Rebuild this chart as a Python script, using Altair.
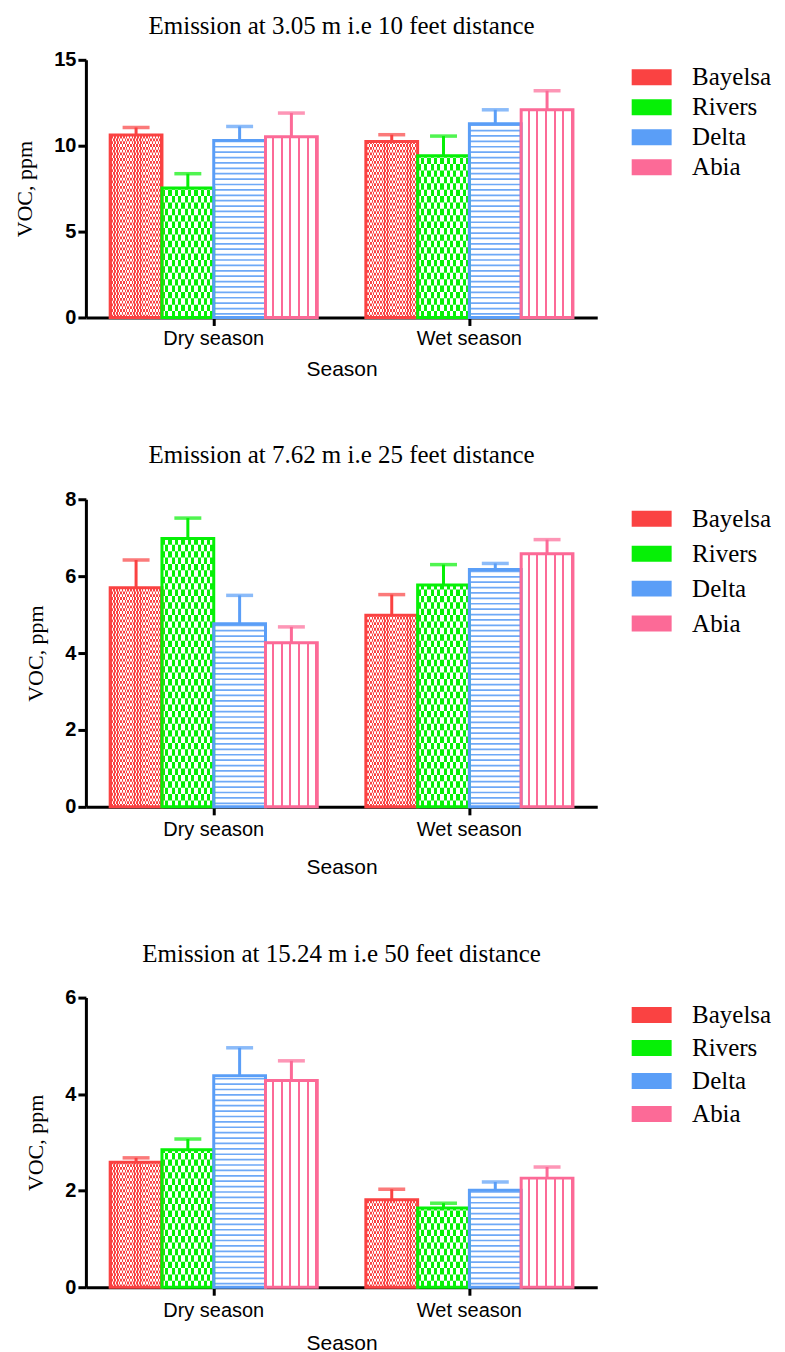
import altair as alt
import pandas as pd

seasons = ["Dry season", "Wet season"]
states = ["Bayelsa", "Rivers", "Delta", "Abia"]
colors = ["#FA4242", "#06F006", "#5A9EF7", "#FC6A97"]

titles = [
    "Emission at 3.05 m i.e 10 feet distance",
    "Emission at 7.62 m i.e 25 feet distance",
    "Emission at 15.24 m i.e 50 feet distance",
]

# mean VOC (ppm), order: Bayelsa, Rivers, Delta, Abia
p1_dry_mean = [10.62, 7.54, 10.31, 10.52]
p1_dry_upper = [11.06, 8.37, 11.12, 11.90]
p1_wet_mean = [10.25, 9.42, 11.28, 12.09]
p1_wet_upper = [10.64, 10.56, 12.09, 13.20]

p2_dry_mean = [5.70, 6.98, 4.76, 4.27]
p2_dry_upper = [6.42, 7.51, 5.50, 4.68]
p2_wet_mean = [4.98, 5.77, 6.17, 6.58]
p2_wet_upper = [5.52, 6.30, 6.33, 6.95]

p3_dry_mean = [2.59, 2.85, 4.38, 4.28]
p3_dry_upper = [2.68, 3.07, 4.96, 4.69]
p3_wet_mean = [1.81, 1.64, 2.01, 2.26]
p3_wet_upper = [2.03, 1.74, 2.18, 2.49]

p1_ticks = [0, 5, 10, 15]
p2_ticks = [0, 2, 4, 6, 8]
p3_ticks = [0, 2, 4, 6]

panels = [
    dict(title=titles[0], dry=p1_dry_mean, dryu=p1_dry_upper, wet=p1_wet_mean, wetu=p1_wet_upper,
         ticks=p1_ticks, height=258, title_offset=11, legend_y=5, row_pad=4,
         xlab_pad=3, xtitle_pad=10),
    dict(title=titles[1], dry=p2_dry_mean, dryu=p2_dry_upper, wet=p2_wet_mean, wetu=p2_wet_upper,
         ticks=p2_ticks, height=308, title_offset=21, legend_y=7, row_pad=9,
         xlab_pad=5, xtitle_pad=17),
    dict(title=titles[2], dry=p3_dry_mean, dryu=p3_dry_upper, wet=p3_wet_mean, wetu=p3_wet_upper,
         ticks=p3_ticks, height=290, title_offset=21, legend_y=5, row_pad=7,
         xlab_pad=5, xtitle_pad=12),
]

WIDTH = 512


def stripes(c1, c2, n, frac):
    """Horizontal linear gradient of n periods: c1 for `frac` of each period, then c2."""
    stops = []
    for k in range(n):
        a = round(k / n, 5)
        b = round((k + frac) / n, 5)
        e = round((k + 1) / n, 5)
        stops += [
            alt.GradientStop(offset=a, color=c1),
            alt.GradientStop(offset=b, color=c1),
            alt.GradientStop(offset=b, color=c2),
            alt.GradientStop(offset=e, color=c2),
        ]
    return alt.LinearGradient(gradient="linear", stops=stops, x1=0, x2=1, y1=0, y2=0)


def make_panel(p):
    rows = []
    for season, means, uppers in [(seasons[0], p["dry"], p["dryu"]), (seasons[1], p["wet"], p["wetu"])]:
        for st, m, u in zip(states, means, uppers):
            rows.append({"season": season, "state": st, "value": m, "upper": u})
    df = pd.DataFrame(rows)

    ymax = p["ticks"][-1]
    H = p["height"]
    k = H / ymax  # px per unit

    xenc = alt.X("season:N", scale=alt.Scale(domain=seasons, paddingInner=0.19, paddingOuter=0.095),
                 title="Season",
                 axis=alt.Axis(labelPadding=p["xlab_pad"], titlePadding=p["xtitle_pad"]))
    xoff = alt.XOffset("state:N", scale=alt.Scale(domain=states, paddingInner=0, paddingOuter=0))
    yaxis = alt.Axis(values=p["ticks"])

    def Y(f):
        return alt.Y(f"{f}:Q", scale=alt.Scale(domain=[0, ymax], nice=False, zero=True),
                     axis=yaxis, title="VOC, ppm")

    base = alt.Chart(df).encode(x=xenc, xOffset=xoff)

    legend = alt.Legend(
        title=None, orient="none", legendX=554, legendY=p["legend_y"],
        symbolType="M-2.5,-1H2.5V1H-2.5Z", symbolSize=256, symbolStrokeWidth=0,
        labelFont="Liberation Serif", labelFontSize=25, labelColor="black",
        labelOffset=28, rowPadding=p["row_pad"], padding=0,
    )

    layers = []
    # base coloured bars (carry the legend)
    layers.append(base.mark_bar(strokeWidth=0).encode(
        y=Y("value"),
        color=alt.Color("state:N", scale=alt.Scale(domain=states, range=colors), legend=legend),
    ))

    # Bayelsa fine checker
    cb = 2.8 / k
    bay = base.transform_filter(alt.datum.state == "Bayelsa")
    layers.append(bay.mark_bar(strokeWidth=0, fill=stripes(colors[0], "white", 18, 0.55)).encode(y=Y("value")))
    layers.append(
        bay.transform_calculate(rows=f"sequence(0, datum.value, {2 * cb})")
        .transform_flatten(["rows"])
        .transform_calculate(rows_end=f"min(datum.rows + {cb}, datum.value)")
        .mark_bar(strokeWidth=0, fill=stripes("white", colors[0], 18, 0.45))
        .encode(y=Y("rows"), y2="rows_end:Q")
    )

    # Rivers coarse checker
    cr = 6.4 / k
    riv = base.transform_filter(alt.datum.state == "Rivers")
    layers.append(riv.mark_bar(strokeWidth=0, fill=stripes(colors[1], "white", 8, 0.5)).encode(y=Y("value")))
    layers.append(
        riv.transform_calculate(rows=f"sequence(0, datum.value, {2 * cr})")
        .transform_flatten(["rows"])
        .transform_calculate(rows_end=f"min(datum.rows + {cr}, datum.value)")
        .mark_bar(strokeWidth=0, fill=stripes("white", colors[1], 8, 0.5))
        .encode(y=Y("rows"), y2="rows_end:Q")
    )

    # Delta horizontal lines
    sd = 5.4 / k
    td = 1.7 / k
    dlt = base.transform_filter(alt.datum.state == "Delta")
    layers.append(dlt.mark_bar(strokeWidth=0, fill="white").encode(y=Y("value")))
    layers.append(
        dlt.transform_calculate(ln=f"sequence({sd / 2}, datum.value, {sd})")
        .transform_flatten(["ln"])
        .transform_calculate(ln_end=f"min(datum.ln + {td}, datum.value)")
        .mark_bar(strokeWidth=0, color="#6EA9F7")
        .encode(y=Y("ln"), y2="ln_end:Q")
    )

    # Abia vertical lines
    abi = base.transform_filter(alt.datum.state == "Abia")
    layers.append(abi.mark_bar(strokeWidth=0, fill=stripes("white", colors[3], 6, 0.76)).encode(y=Y("value")))

    # outlines
    layers.append(base.mark_bar(fillOpacity=0, strokeWidth=3).encode(
        y=Y("value"),
        stroke=alt.Stroke("state:N", scale=alt.Scale(domain=states, range=colors), legend=None),
    ))

    # error bars
    layers.append(base.mark_rule(strokeWidth=3).encode(
        y=Y("value"), y2="upper:Q",
        stroke=alt.Stroke("state:N", scale=alt.Scale(domain=states, range=colors), legend=None),
    ))
    layers.append(base.mark_tick(orient="horizontal", size=27, thickness=3.5).encode(
        y=Y("upper"),
        fill=alt.Fill("state:N", scale=alt.Scale(domain=states, range=colors), legend=None),
    ))

    return alt.layer(*layers).properties(
        width=WIDTH, height=H,
        title=alt.Title(p["title"], offset=p["title_offset"]),
    )


chart = (
    alt.vconcat(*[make_panel(p) for p in panels], spacing=64)
    .resolve_scale(x="independent", y="independent", color="independent",
                   stroke="independent", fill="independent", xOffset="independent")
    .resolve_legend(color="independent")
    .configure_view(stroke=None)
    .configure_axis(domainColor="black", domainWidth=3, tickColor="black", tickWidth=3,
                    tickSize=8, grid=False, labelColor="black", titleColor="black")
    .configure_axisY(labelFont="Liberation Sans", labelFontWeight="bold", labelFontSize=20,
                     titleFont="Liberation Serif", titleFontWeight="normal", titleFontSize=22,
                     labelPadding=2, titlePadding=17)
    .configure_axisX(labelFont="Liberation Sans", labelFontSize=20, labelAngle=0,
                     titleFont="Liberation Sans", titleFontWeight="normal", titleFontSize=21)
    .configure_title(font="Liberation Serif", fontSize=25, fontWeight="normal", color="black",
                     anchor="middle", frame="group")
)

chart.save("out.html", embed_options={"renderer": "svg", "actions": False})
